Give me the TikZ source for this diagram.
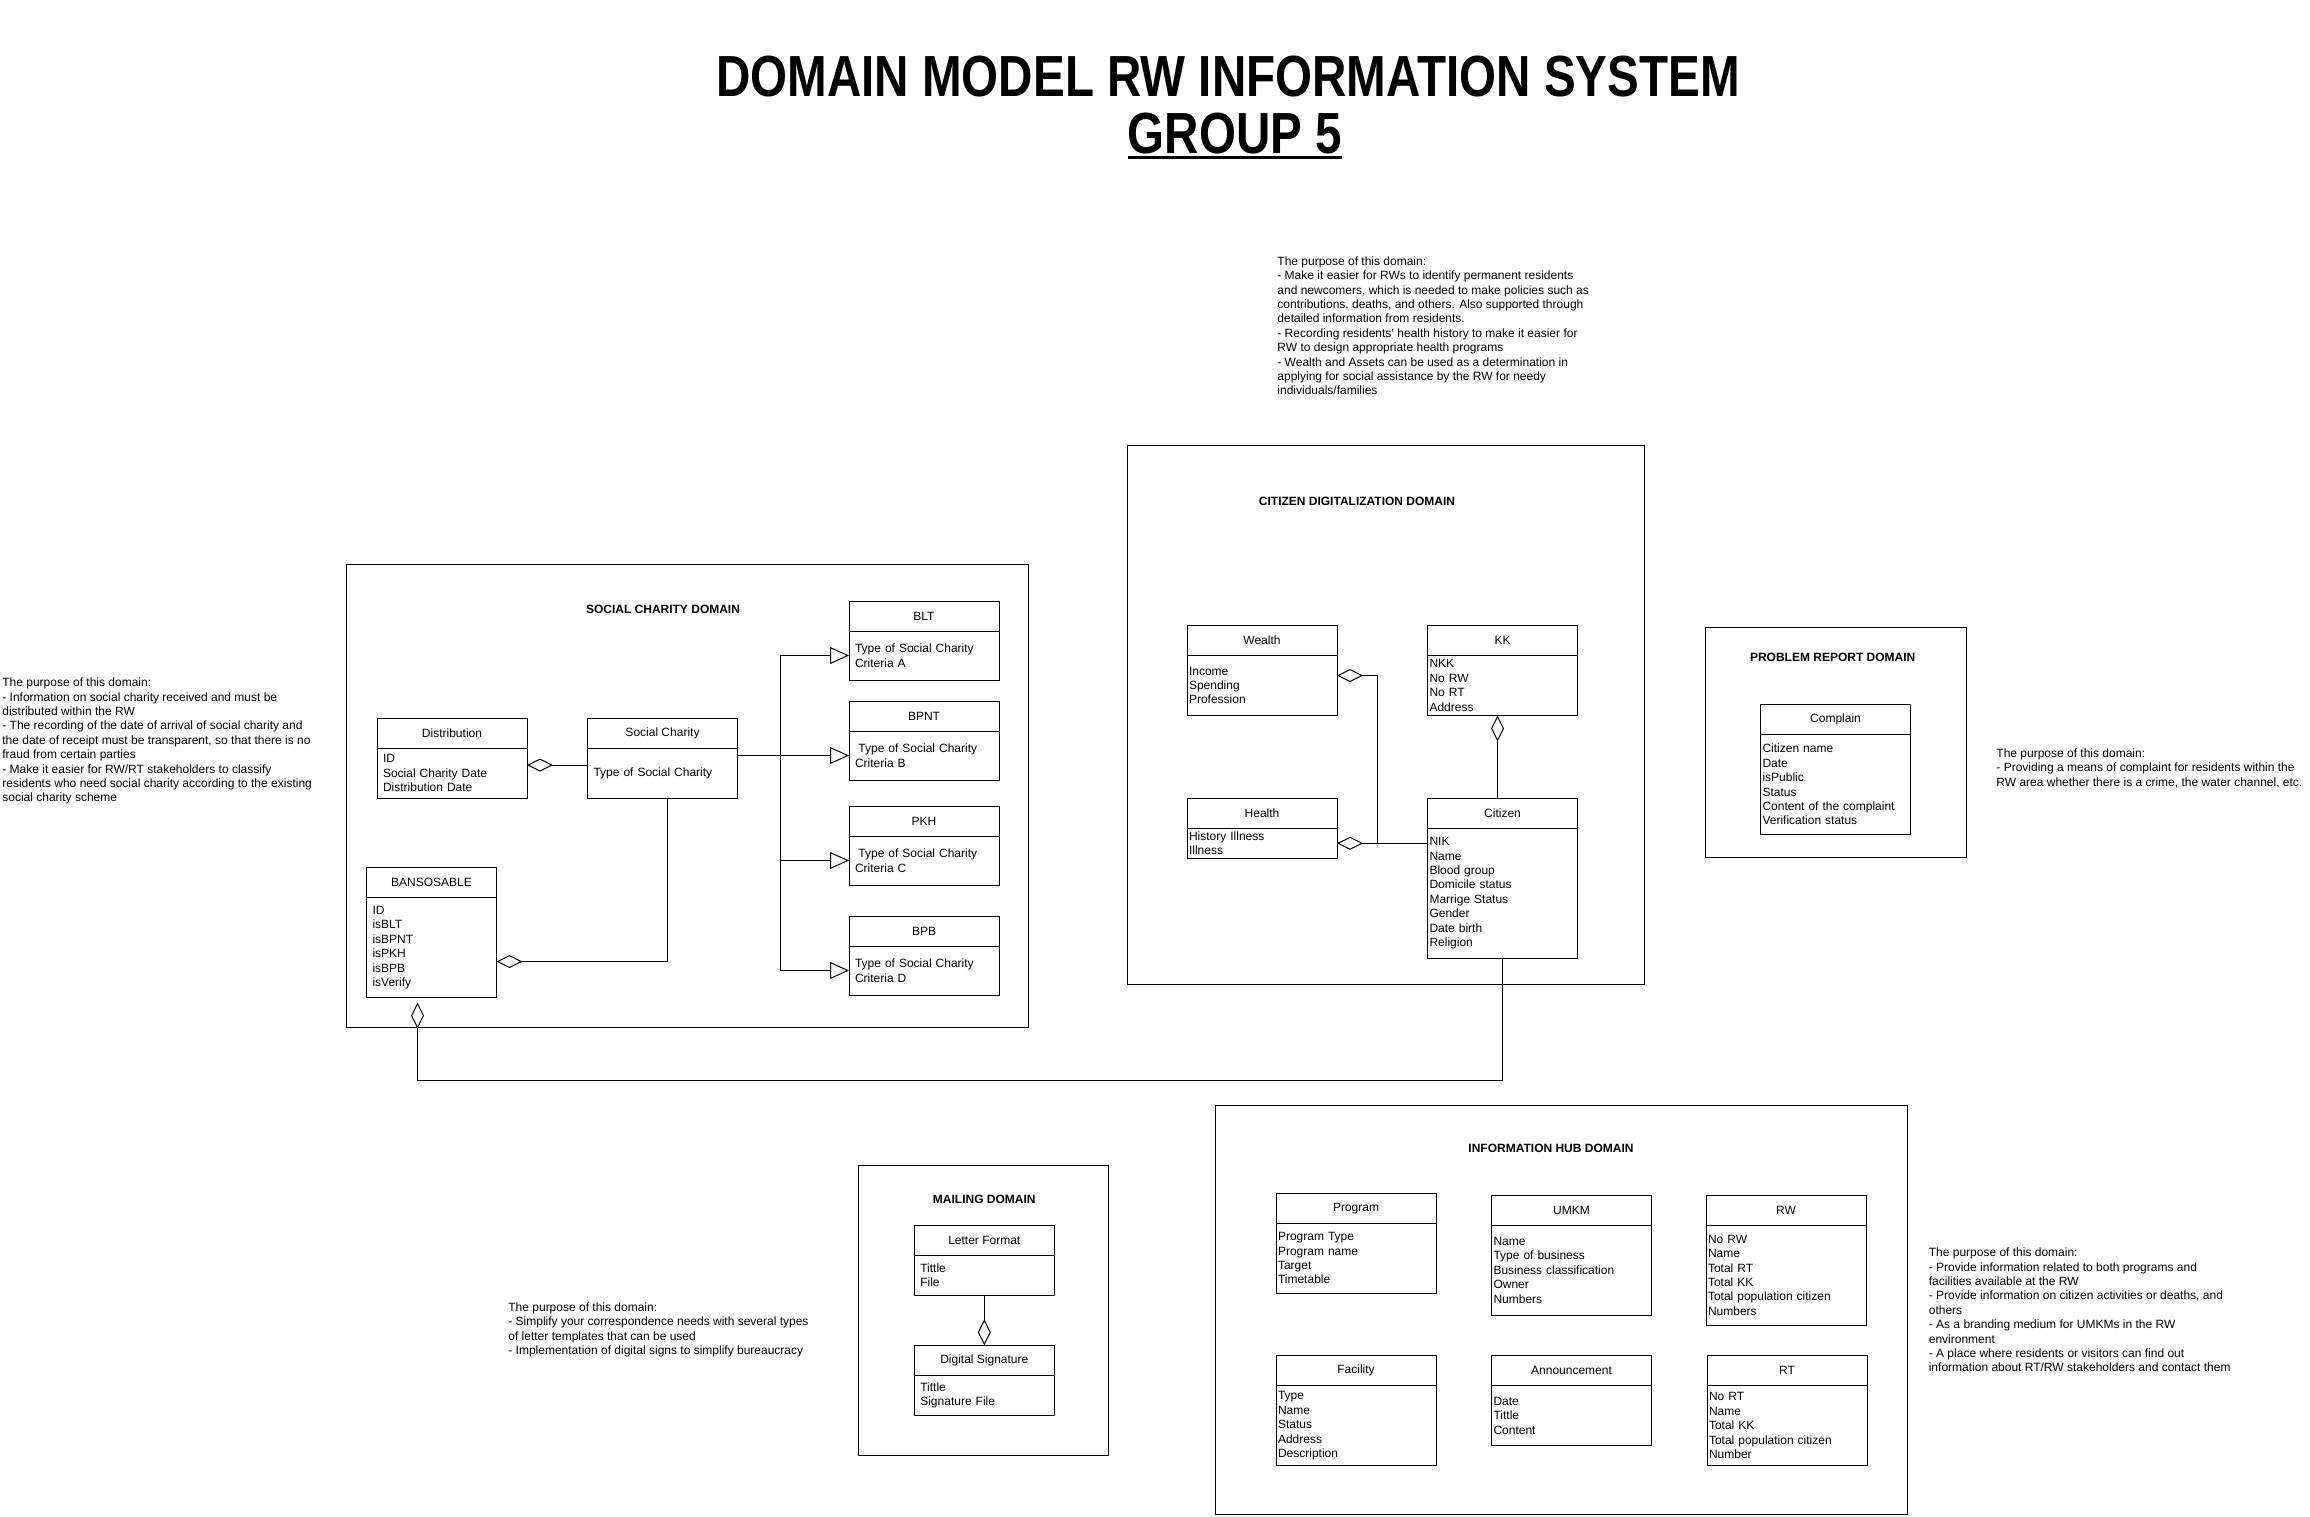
\documentclass[tikz,border=0pt]{standalone}
\usepackage{fontspec}
\usepackage{graphicx}
\setmainfont{Liberation Sans}
\usetikzlibrary{arrows.meta}
\newcommand\umlbox[8]{%
  \node[hdr, minimum width=#4pt, anchor=north west] (#1-h) at (#2,#3) {#7};
  \pgfmathsetmacro\umltw{#4-2*#6}%
  \node[bdy, minimum width=#4pt, minimum height=#5pt, inner xsep=#6pt, text width=\umltw pt, anchor=north west] (#1-b) at (#1-h.south west) {#8};
}
\newcommand\groupul[1]{\setbox0\hbox{#1}\rlap{\rule[-3pt]{\wd0}{1.8pt}}\box0}
\tikzset{
  sm/.style={font=\fontsize{6}{7.2}\selectfont},
  hdr/.style={draw, line width=0.5pt, minimum height=15pt, inner sep=0pt, outer sep=0pt, sm},
  bdy/.style={draw, line width=0.5pt, inner ysep=0pt, outer sep=0pt, align=left, sm},
  frame/.style={draw, line width=0.5pt},
  dtitle/.style={font=\bfseries\fontsize{6}{7.2}\selectfont, inner sep=0pt},
  note/.style={sm, align=left, inner sep=0pt, anchor=north west},
  agg/.style={line width=0.5pt, {Diamond[open,length=13pt,width=6.5pt]}-},
  gen/.style={line width=0.5pt, -{Triangle[open,length=9.5pt,width=8.5pt]}},
  conn/.style={line width=0.5pt}
}
\begin{document}
\begin{tikzpicture}[x=0.5pt,y=-0.5pt]
\useasboundingbox (0,0) rectangle (2310,1516);
\fill[white] (0,0) rectangle (2310,1516);

% titles
\node[font=\bfseries\fontsize{29}{34}\selectfont, anchor=base, inner sep=0pt] (title) at (1228,96.8) {\scalebox{0.82}[1]{DOMAIN MODEL RW INFORMATION SYSTEM}};
\node[font=\bfseries\fontsize{29}{34}\selectfont, anchor=base, inner sep=0pt] (group) at (1235,153.4) {\scalebox{0.82}[1]{\groupul{GROUP 5}}};

% frames
\draw[frame] (346,564) rectangle (1028,1027);
\draw[frame] (1127,445) rectangle (1644,984);
\draw[frame] (1705,627) rectangle (1966,857);
\draw[frame] (858,1165) rectangle (1108,1455.5);
\draw[frame] (1215.4,1105) rectangle (1907.8,1514.4);

% domain titles
\node[dtitle] (tsoc) at (663,609.5) {SOCIAL CHARITY DOMAIN};
\node[dtitle] (tcit) at (1357,501.4) {CITIZEN DIGITALIZATION DOMAIN};
\node[dtitle] (tprob) at (1832.7,657.5) {PROBLEM REPORT DOMAIN};
\node[dtitle] (tmail) at (984.3,1199.7) {MAILING DOMAIN};
\node[dtitle] (tinfo) at (1551,1148) {INFORMATION HUB DOMAIN};

% notes
\node[note] (nsoc) at (2,677.5) {The purpose of this domain:\\- Information on social charity received and must be\\distributed within the RW\\- The recording of the date of arrival of social charity and\\the date of receipt must be transparent, so that there is no\\fraud from certain parties\\- Make it easier for RW/RT stakeholders to classify\\residents who need social charity according to the existing\\social charity scheme};
\node[note] (ncit) at (1277,256.2) {The purpose of this domain:\\- Make it easier for RWs to identify permanent residents\\and newcomers, which is needed to make policies such as\\contributions, deaths, and others. Also supported through\\detailed information from residents.\\- Recording residents' health history to make it easier for\\RW to design appropriate health programs\\- Wealth and Assets can be used as a determination in\\applying for social assistance by the RW for needy\\individuals/families};
\node[note] (nprob) at (1996,748.3) {The purpose of this domain:\\- Providing a means of complaint for residents within the\\RW area whether there is a crime, the water channel, etc.};
\node[note] (nmail) at (508,1302.2) {The purpose of this domain:\\- Simplify your correspondence needs with several types\\of letter templates that can be used\\- Implementation of digital signs to simplify bureaucracy};
\node[note] (ninfo) at (1928.4,1247.5) {The purpose of this domain:\\- Provide information related to both programs and\\facilities available at the RW\\- Provide information on citizen activities or deaths, and\\others\\- As a branding medium for UMKMs in the RW\\environment\\- A place where residents or visitors can find out\\information about RT/RW stakeholders and contact them};

% social charity domain
\umlbox{blt}{849}{601}{75}{24.5}{3}{BLT}{Type of Social Charity\\Criteria A}
\umlbox{bpnt}{849}{701}{75}{24.5}{3}{BPNT}{\hspace*{1.7pt}Type of Social Charity\\Criteria B}
\umlbox{pkh}{849}{806}{75}{24.5}{3}{PKH}{\hspace*{1.7pt}Type of Social Charity\\Criteria C}
\umlbox{bpb}{849}{916}{75}{24.5}{3}{BPB}{Type of Social Charity\\Criteria D}
\umlbox{dist}{377}{718}{75}{25}{3}{Distribution}{ID\\Social Charity Date\\Distribution Date}
\umlbox{sc}{587.5}{718}{75}{25}{3}{Social Charity}{Type of Social Charity}
\umlbox{ban}{366.5}{867.5}{65}{50}{3}{BANSOSABLE}{ID\\isBLT\\isBPNT\\isPKH\\isBPB\\isVerify}

% citizen domain
\umlbox{wl}{1187}{625.5}{75}{30}{1}{Wealth}{Income\\Spending\\Profession}
\umlbox{kk}{1427.5}{625.5}{75}{30}{1}{KK}{NKK\\No RW\\No RT\\Address}
\umlbox{hl}{1187}{798}{75}{15.25}{1}{Health}{History Illness\\Illness}
\umlbox{cz}{1427.5}{798}{75}{65.25}{1}{Citizen}{NIK\\Name\\Blood group\\Domicile status\\Marrige Status\\Gender\\Date birth\\Religion}

% problem report
\umlbox{cmp}{1760.5}{704.5}{75}{50}{1}{Complain}{Citizen name\\Date\\isPublic\\Status\\Content of the complaint\\Verification status}

% mailing
\umlbox{lf}{914.3}{1225.3}{70}{20}{3}{Letter Format}{Tittle\\File}
\umlbox{ds}{914.3}{1345.3}{70}{20}{3}{Digital Signature}{Tittle\\Signature File}

% information hub
\umlbox{prg}{1276}{1193.3}{80}{35}{1}{Program}{Program Type\\Program name\\Target\\Timetable}
\umlbox{umkm}{1491.5}{1195.3}{80}{45}{1}{UMKM}{Name\\Type of business\\Business classification\\Owner\\Numbers}
\umlbox{rw}{1706}{1195.3}{80}{50}{1}{RW}{No RW\\Name\\Total RT\\Total KK\\Total population citizen\\Numbers}
\umlbox{fac}{1276}{1355.7}{80}{40}{1}{Facility}{Type\\Name\\Status\\Address\\Description}
\umlbox{ann}{1491.5}{1355.7}{80}{30}{1}{Announcement}{Date\\Tittle\\Content}
\umlbox{rt}{1707}{1355.7}{80}{40}{1}{RT}{No RT\\Name\\Total KK\\Total population citizen\\Number}

% connectors: social charity
\coordinate (tr) at (780.5,0);
\draw[agg] ([yshift=4pt]dist-b.east) -- ([yshift=4pt]sc-b.west);
\draw[gen] (sc-b.east |- bpnt-b.west) -- (bpnt-b.west);
\draw[gen] (sc-b.east |- bpnt-b.west) -| (tr |- blt-b.west) -- (blt-b.west);
\draw[gen] (sc-b.east |- bpnt-b.west) -| (tr |- pkh-b.west) -- (pkh-b.west);
\draw[gen] (sc-b.east |- bpnt-b.west) -| (tr |- bpb-b.west) -- (bpb-b.west);
\draw[agg] ([yshift=-7pt]ban-b.east) -| ([xshift=2.5pt]sc-b.south);

% bansosable to citizen
\coordinate (low) at (0,1080);
\draw[agg] ([xshift=-7pt,yshift=-2.5pt]ban-b.south) |- (low -| cz-b.south) -- (cz-b.south);

% citizen domain connectors
\coordinate (wj) at (1377.4,0);
\draw[agg] ([yshift=5pt]wl-b.east) -| (wj |- hl-b.east);
\draw[agg] (hl-b.east) -- (hl-b.east -| cz-b.west);
\draw[agg] ([xshift=-2.5pt]kk-b.south) -- ([xshift=-2.5pt]kk-b.south |- cz-h.north);

% mailing
\draw[agg] (ds-h.north) -- (lf-b.south);
\end{tikzpicture}
\end{document}
